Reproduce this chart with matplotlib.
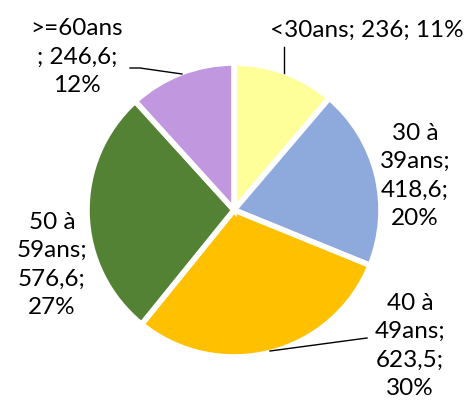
import matplotlib
matplotlib.use("Agg")
import matplotlib.pyplot as plt

# --- DONNEES ---
categories = ["<30ans", "30 à\n39ans", "40 à\n49ans", "50 à\n59ans", ">=60ans"]
valeurs = [236, 418.6, 623.5, 576.6, 246.6]
couleurs = ["#FFFF99", "#8EA9DB", "#FFC000", "#548235", "#C198E0"]

# format de chaque étiquette (retours à la ligne comme dans Excel)
formats = ["{n}; {v}; {p}", "{n};\n{v};\n{p}", "{n};\n{v};\n{p}", "{n};\n{v};\n{p}", "{n}\n; {v};\n{p}"]
# position des étiquettes (repère en pixels, y vers le haut)
pos_labels = [(367, 374), (415, 228), (410, 58), (52, 139), (77, 347)]
# lignes de rappel : (point sur la part, point près du texte)
rappels = {0: [(284, 331), (284, 357)],
           2: [(270, 53), (367, 66)],
           4: [(182, 330), (140, 336), (130, 336)]}

plt.rcParams['font.family'] = ['Lato', 'DejaVu Sans']

fig = plt.figure(figsize=(4.67, 4.04), dpi=100)
ax = fig.add_axes([0, 0, 1, 1])

ax.pie(valeurs, colors=couleurs, startangle=90, counterclock=False,
       center=(234, 194), radius=147, frame=True,
       wedgeprops=dict(edgecolor='white', linewidth=4))
ax.set_xlim(0, 467)
ax.set_ylim(0, 404)
ax.set_aspect('equal')
ax.axis('off')

total = sum(valeurs)
for i, (n, v) in enumerate(zip(categories, valeurs)):
    txt = formats[i].format(n=n, v=f"{v:g}".replace(".", ","),
                            p=f"{round(100 * v / total):d}%")
    ax.text(pos_labels[i][0], pos_labels[i][1], txt, ha='center', va='center',
            fontsize=17.5, linespacing=1.45, color='black')

for i, pts in rappels.items():
    ax.plot([p[0] for p in pts], [p[1] for p in pts], color='black', linewidth=1)

fig.savefig("out.png", dpi=100)
